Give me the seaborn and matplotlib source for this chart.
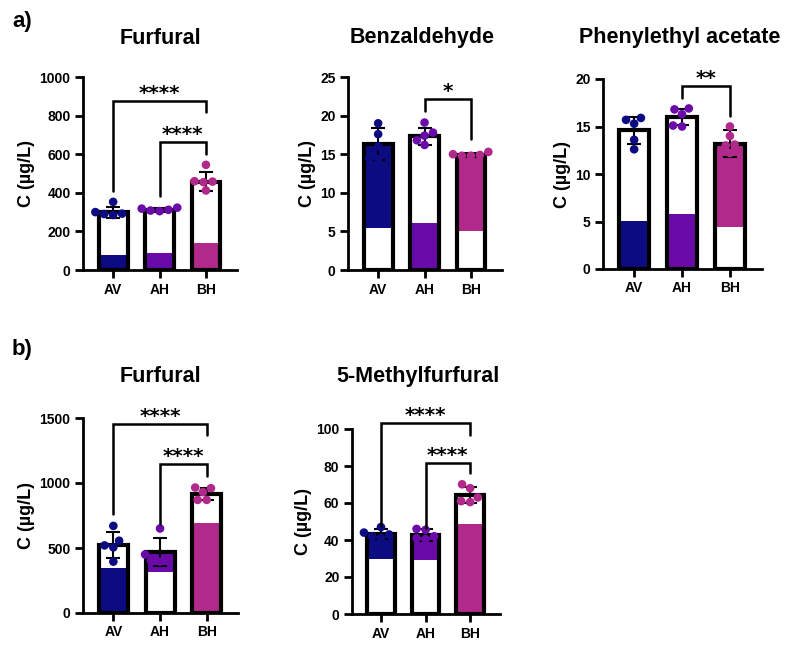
import matplotlib
matplotlib.use("Agg")
import matplotlib.pyplot as plt
import seaborn as sns
import pandas as pd

sns.set_style("ticks")
plt.rcParams["font.family"] = ["Liberation Sans", "DejaVu Sans"]
plt.rcParams["font.weight"] = "bold"
for k in ["text.color", "axes.labelcolor", "xtick.color", "ytick.color", "axes.edgecolor"]:
    plt.rcParams[k] = "black"

groups = ["AV", "AH", "BH"]
palette = {"AV": "#0c0b82", "AH": "#6a0aa8", "BH": "#b0298b"}

# ---- panel a) Furfural ----
furA_mean = [299, 310, 458]
furA_sd = [30, 12, 50]
furA_pts = {"AV": [353, 290, 285, 300, 292], "AH": [318, 323, 308, 312, 305], "BH": [545, 458, 455, 460, 412]}
furA_col_lo = [0, 0, 0]
furA_col_hi = [80, 88, 140]
furA_brackets = [("AV", "BH", 874, 407, 817, "****"), ("AH", "BH", 661, 384, 602, "****")]

# ---- panel a) Benzaldehyde ----
benz_mean = [16.3, 17.3, 14.9]
benz_sd = [2.1, 1.15, 0.2]
benz_pts = {"AV": [19.0, 17.6, 16.0, 14.5, 14.4], "AH": [19.1, 17.8, 17.4, 16.2, 16.8], "BH": [15.3, 15.0, 14.9, 14.8, 14.8]}
benz_col_lo = [5.5, 0, 5.0]
benz_col_hi = [16.3, 6.1, 14.9]
benz_brackets = [("AH", "BH", 22.2, 20.6, 17.0, "*")]

# ---- panel a) Phenylethyl acetate ----
phen_mean = [14.6, 16.0, 13.2]
phen_sd = [1.45, 0.85, 1.4]
phen_pts = {"AV": [15.9, 15.7, 15.3, 13.6, 12.6], "AH": [16.9, 16.8, 16.3, 15.1, 15.0], "BH": [15.0, 14.0, 13.1, 13.0, 12.2]}
phen_col_lo = [0, 0, 4.4]
phen_col_hi = [5.1, 5.8, 13.2]
phen_brackets = [("AH", "BH", 19.3, 18.0, 16.1, "**")]

# ---- panel b) Furfural ----
furB_mean = [520, 470, 915]
furB_sd = [100, 105, 45]
furB_pts = {"AV": [670, 556, 520, 505, 395], "AH": [650, 450, 420, 400, 395], "BH": [965, 960, 930, 870, 870]}
furB_col_lo = [0, 315, 0]
furB_col_hi = [350, 470, 690]
furB_brackets = [("AV", "BH", 1453, 759, 1371, "****"), ("AH", "BH", 1145, 682, 1057, "****")]

# ---- panel b) 5-Methylfurfural ----
meth_mean = [43.2, 42.7, 64.5]
meth_sd = [2.6, 3.0, 4.4]
meth_pts = {"AV": [47, 44, 43, 42, 41], "AH": [46, 45.5, 42, 40.5, 41], "BH": [70.1, 68, 63, 61, 60.5]}
meth_col_lo = [29.8, 29.4, 0]
meth_col_hi = [43.2, 42.7, 48.7]
meth_brackets = [("AV", "BH", 103.4, 47.8, 97, "****"), ("AH", "BH", 81.5, 46.4, 76, "****")]

panels = [
    dict(title="Furfural", mean=furA_mean, sd=furA_sd, pts=furA_pts, lo=furA_col_lo, hi=furA_col_hi,
         br=furA_brackets, ymax=1000, step=200, rect=(83, 77, 237, 270), tpos=(160, 38)),
    dict(title="Benzaldehyde", mean=benz_mean, sd=benz_sd, pts=benz_pts, lo=benz_col_lo, hi=benz_col_hi,
         br=benz_brackets, ymax=25, step=5, rect=(348, 77, 502, 270), tpos=(422, 38)),
    dict(title="Phenylethyl acetate", mean=phen_mean, sd=phen_sd, pts=phen_pts, lo=phen_col_lo, hi=phen_col_hi,
         br=phen_brackets, ymax=20, step=5, rect=(603, 79, 762, 269), tpos=(680, 38)),
    dict(title="Furfural", mean=furB_mean, sd=furB_sd, pts=furB_pts, lo=furB_col_lo, hi=furB_col_hi,
         br=furB_brackets, ymax=1500, step=500, rect=(83, 418, 238, 613), tpos=(160, 377)),
    dict(title="5-Methylfurfural", mean=meth_mean, sd=meth_sd, pts=meth_pts, lo=meth_col_lo, hi=meth_col_hi,
         br=meth_brackets, ymax=100, step=20, rect=(352, 429, 500, 614), tpos=(418, 377)),
]

W, H = 791, 645
fig = plt.figure(figsize=(W / 100, H / 100), dpi=100)

BAR_W = 0.62
for p in panels:
    x0, y0, x1, y1 = p["rect"]
    ax = fig.add_axes([x0 / W, 1 - y1 / H, (x1 - x0) / W, (y1 - y0) / H])
    xpos = list(range(len(groups)))
    # coloured segments
    ax.bar(xpos, [h - l for h, l in zip(p["hi"], p["lo"])], bottom=p["lo"], width=BAR_W,
           color=[palette[g] for g in groups], linewidth=0, zorder=2)
    # outlined bars
    sns.barplot(x=groups, y=p["mean"], order=groups, color="black", fill=False, width=BAR_W,
                linewidth=3, errorbar=None, ax=ax, zorder=3)
    # SD error bars
    ax.errorbar(xpos, p["mean"], yerr=p["sd"], fmt="none", ecolor="black", elinewidth=1.5,
                capsize=5, capthick=1.5, zorder=4)
    # individual points
    df = pd.DataFrame([(g, v) for g in groups for v in p["pts"][g]], columns=["group", "value"])
    sns.swarmplot(data=df, x="group", y="value", order=groups, hue="group", hue_order=groups,
                  palette=palette, size=6.2, legend=False, ax=ax, zorder=5, linewidth=0)
    # significance brackets
    for g1, g2, top, yl, yr, lab in p["br"]:
        xa, xb = groups.index(g1), groups.index(g2)
        ax.plot([xa, xa, xb, xb], [yl, top, top, yr], color="black", lw=1.8, clip_on=False, zorder=6,
                solid_joinstyle="miter")
        ax.annotate(lab, xy=((xa + xb) / 2, top), xytext=(0, 1.5), textcoords="offset points",
                    ha="center", va="baseline", fontsize=14.5, fontweight="bold",
                    family=["DejaVu Sans"], annotation_clip=False)
    ax.set_xlim(-0.65, 2.67)
    ax.set_ylim(0, p["ymax"])
    ax.set_yticks(list(range(0, p["ymax"] + 1, p["step"])))
    ax.set_xlabel("")
    ax.set_ylabel("C (µg/L)", fontsize=13, fontweight="bold", labelpad=3)
    ax.tick_params(axis="both", length=6, width=2, labelsize=10, pad=3, colors="black")
    for lbl in ax.get_xticklabels() + ax.get_yticklabels():
        lbl.set_fontweight("bold")
    sns.despine(ax=ax)
    for s in ["left", "bottom"]:
        ax.spines[s].set_linewidth(2)
        ax.spines[s].set_color("black")
    ax.set_facecolor("none")
    fig.text(p["tpos"][0] / W, 1 - p["tpos"][1] / H, p["title"], ha="center", va="center",
             fontsize=15.5, fontweight="bold")

fig.text(22 / W, 1 - 22 / H, "a)", ha="center", va="center", fontsize=16, fontweight="bold")
fig.text(22 / W, 1 - 350 / H, "b)", ha="center", va="center", fontsize=16, fontweight="bold")

fig.savefig("out.png", dpi=100, facecolor="white")
